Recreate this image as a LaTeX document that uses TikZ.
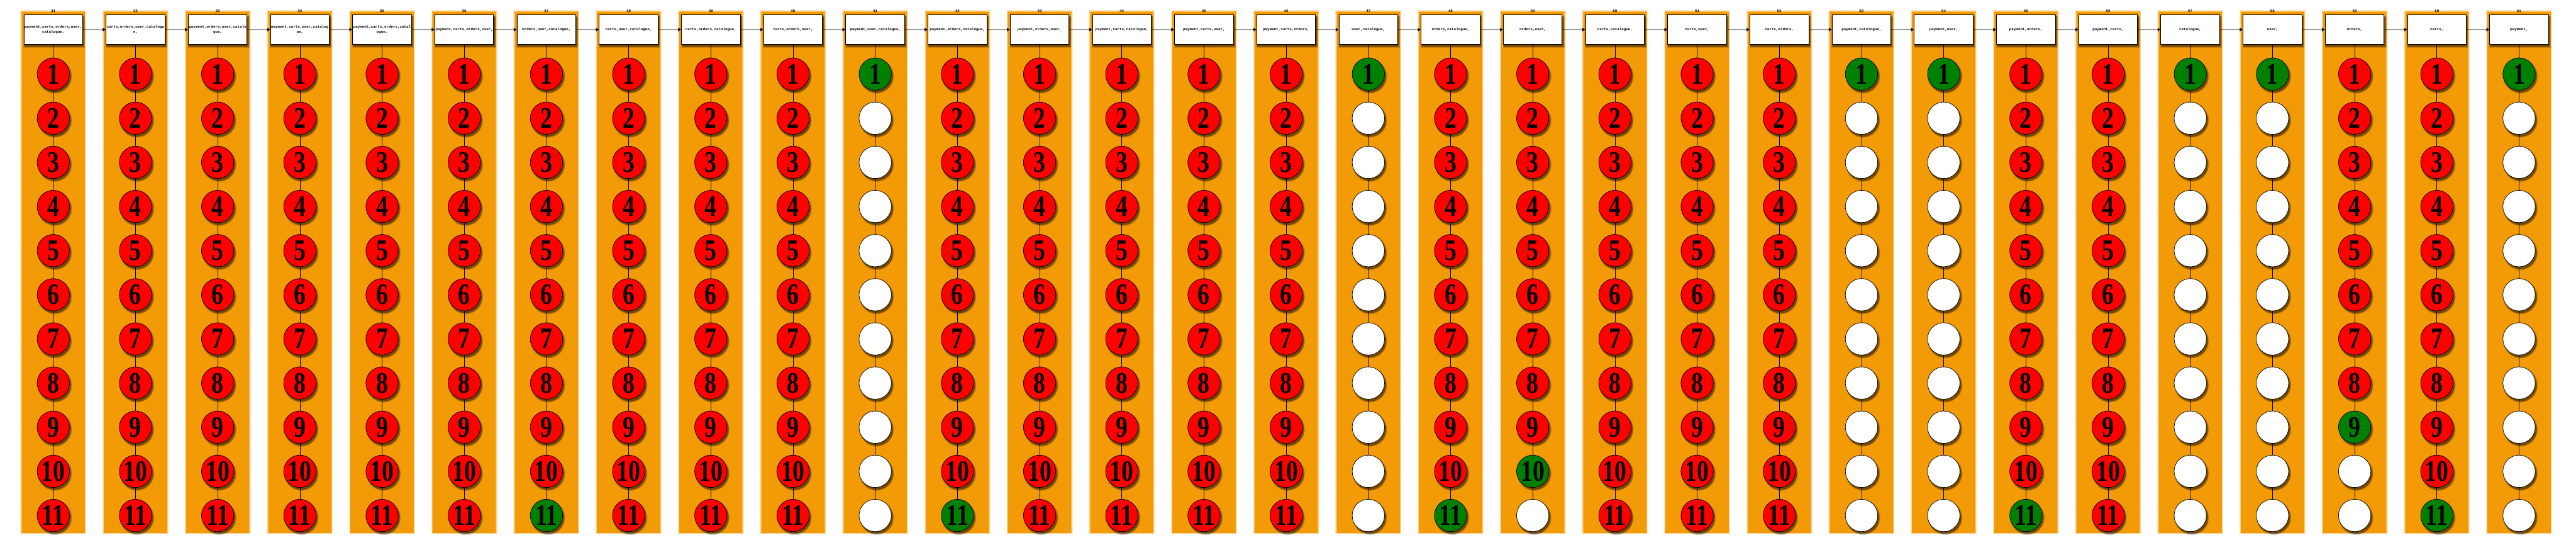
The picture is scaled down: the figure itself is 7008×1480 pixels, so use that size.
\documentclass[tikz,border=0pt]{standalone}
\usepackage{fontspec}
\usepackage{graphicx}
\setmainfont{Liberation Serif}
\newfontfamily\labelfont{Liberation Mono}
\usetikzlibrary{
  arrows.meta,
  positioning
}
\definecolor{bandorange}{HTML}{F39B07}
\definecolor{failred}{HTML}{FF0000}
\definecolor{passgreen}{HTML}{008000}
\pgfdeclarelayer{bands}
\pgfdeclarelayer{shades}
\pgfsetlayers{bands,shades,main}

\begin{document}
\begin{tikzpicture}[
      x=0.1mm, y=0.1mm,
      setbox/.style={
        rectangle, draw=black, line width=0.45pt, fill=white,
        minimum width=1.6cm, minimum height=0.8cm, inner sep=0.2pt,
        font=\labelfont\bfseries\fontsize{2.85}{3.7}\selectfont, align=center
      },
      runno/.style={font=\labelfont\bfseries\fontsize{2.85}{3.7}\selectfont, inner sep=0pt},
      ball/.style={
        circle, draw=black, line width=0.35pt,
        minimum size=0.88cm, inner sep=0pt,
        font=\bfseries\fontsize{23}{23}\selectfont
      },
      failed/.style={ball, fill=failred},
      passed/.style={ball, fill=passgreen},
      skipped/.style={ball, fill=white},
      link/.style={line width=0.3pt},
      arrow/.style={-{Triangle[length=2.3pt, width=2.5pt]}, line width=0.3pt}
    ]
      \useasboundingbox (0,0) rectangle (7008,1480);

      % Runs: number / services / red steps before the green one
      \foreach \idx/\lbl/\nred in {
          31/{payment,carts,orders,user,\\catalogue,}/11,
          32/{carts,orders,user,catalogu\\e,}/11,
          33/{payment,orders,user,catalo\\gue,}/11,
          34/{payment,carts,user,catalog\\ue,}/11,
          35/{payment,carts,orders,catal\\ogue,}/11,
          36/{payment,carts,orders,user,}/11,
          37/{orders,user,catalogue,}/10,
          38/{carts,user,catalogue,}/11,
          39/{carts,orders,catalogue,}/11,
          40/{carts,orders,user,}/11,
          41/{payment,user,catalogue,}/0,
          42/{payment,orders,catalogue,}/10,
          43/{payment,orders,user,}/11,
          44/{payment,carts,catalogue,}/11,
          45/{payment,carts,user,}/11,
          46/{payment,carts,orders,}/11,
          47/{user,catalogue,}/0,
          48/{orders,catalogue,}/10,
          49/{orders,user,}/9,
          50/{carts,catalogue,}/11,
          51/{carts,user,}/11,
          52/{carts,orders,}/11,
          53/{payment,catalogue,}/0,
          54/{payment,user,}/0,
          55/{payment,orders,}/10,
          56/{payment,carts,}/11,
          57/{catalogue,}/0,
          58/{user,}/0,
          59/{orders,}/8,
          60/{carts,}/10,
          61/{payment,}/0}{
        % Service set
        \node[setbox] (b\idx) at ({145+223.6*(\idx-31)},1399.5) {\lbl};
        \node[runno, above=0.05cm of b\idx] (h\idx) {\idx};

        % Steps
        \foreach \k in {1,...,11}{
          \pgfmathsetmacro\gap{0.355+1.2*(\k-1)}
          \ifnum\k>\nred\relax
            \ifnum\k=\numexpr\nred+1\relax
              \node[passed, below=\gap cm of b\idx] (c\idx-\k) {\scalebox{0.8}[1]{\k}};
            \else
              \node[skipped, below=\gap cm of b\idx] (c\idx-\k) {};
            \fi
          \else
            \node[failed, below=\gap cm of b\idx] (c\idx-\k) {\scalebox{0.8}[1]{\k}};
          \fi
          \ifnum\k=1
            \draw[link] (b\idx) -- (c\idx-1);
          \else
            \pgfmathtruncatemacro\prevk{\k-1}
            \draw[link] (c\idx-\prevk) -- (c\idx-\k);
          \fi
        }

        % Arrows
        \ifnum\idx>31
          \pgfmathtruncatemacro\previdx{\idx-1}
          \draw[arrow] (b\previdx) -- (b\idx);
        \fi
      }

      % Shadows
      \begin{pgfonlayer}{shades}
        \foreach \idx in {31,...,61}{
          \foreach \e/\o in {0.03/0.15, 0.015/0.2, 0/0.3}{
            \fill[black, opacity=\o] ([xshift=0.025cm-\e cm, yshift=-0.06cm+\e cm]b\idx.north west)
              rectangle ([xshift=0.025cm+\e cm, yshift=-0.06cm-\e cm]b\idx.south east);
            \foreach \k in {1,...,11}
              \fill[black, opacity=\o] ([xshift=0.04cm, yshift=-0.06cm]c\idx-\k.center) circle[radius=0.44cm+\e cm];
          }
        }
      \end{pgfonlayer}

      % Bands
      \begin{pgfonlayer}{bands}
        \foreach \idx in {31,...,61}
          \foreach \e/\o in {0.04/0.2, 0.025/0.3, 0.01/0.45, 0/1}
            \fill[bandorange, opacity=\o] ([xshift=-0.05cm-\e cm, yshift=0.075cm+\e cm]b\idx.north west)
              rectangle ([xshift=0.05cm+\e cm, yshift=-0.03cm-\e cm]b\idx.east |- c\idx-11.south);
      \end{pgfonlayer}
    \end{tikzpicture}
\end{document}
